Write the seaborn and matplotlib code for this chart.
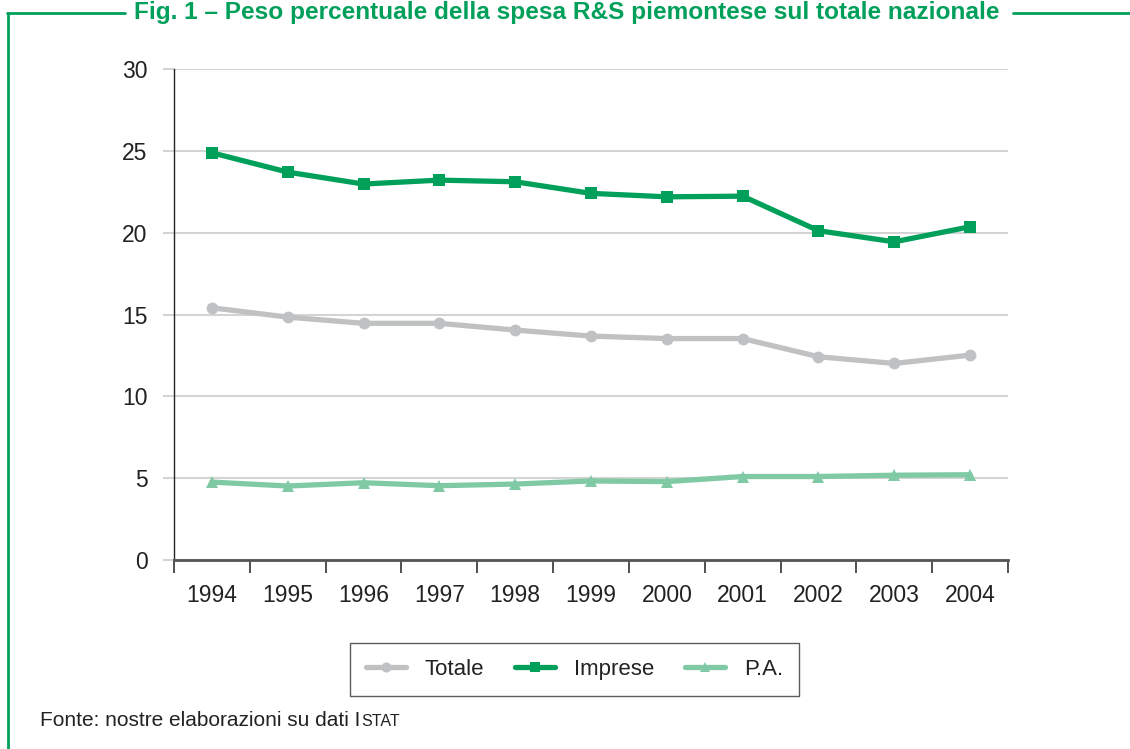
import matplotlib
matplotlib.use("Agg")
import matplotlib.pyplot as plt
from matplotlib.lines import Line2D
import seaborn as sns
import pandas as pd

years = ["1994", "1995", "1996", "1997", "1998", "1999", "2000", "2001", "2002", "2003", "2004"]
totale = [15.41, 14.84, 14.46, 14.46, 14.05, 13.68, 13.53, 13.53, 12.42, 12.01, 12.52]
imprese = [24.88, 23.70, 22.97, 23.21, 23.11, 22.40, 22.19, 22.23, 20.12, 19.44, 20.36]
pa = [4.76, 4.52, 4.72, 4.54, 4.64, 4.83, 4.79, 5.10, 5.10, 5.18, 5.21]
series_names = ["Totale", "Imprese", "P.A."]
title = "Fig. 1 – Peso percentuale della spesa R&S piemontese sul totale nazionale"
source_main = "Fonte: nostre elaborazioni su dati I"
source_small = "STAT"

colors = {"Totale": "#c0c1c3", "Imprese": "#00a05b", "P.A.": "#7fc9a5"}
markers = {"Totale": "o", "Imprese": "s", "P.A.": "^"}
msize = {"Totale": 8.5, "Imprese": 9, "P.A.": 9}

df = pd.DataFrame({
    "Anno": years * 3,
    "Valore": totale + imprese + pa,
    "Serie": [series_names[0]] * len(years) + [series_names[1]] * len(years) + [series_names[2]] * len(years),
})

sns.set_theme(style="white")
plt.rcParams["font.family"] = ["Liberation Sans", "DejaVu Sans"]

fig = plt.figure(figsize=(11.3, 7.49), dpi=100)
ax = fig.add_axes([174 / 1130, 1 - 560 / 749, (1008 - 174) / 1130, (560 - 69) / 749])

for name in series_names:
    sub = df[df["Serie"] == name]
    sns.lineplot(data=sub, x="Anno", y="Valore", ax=ax, color=colors[name],
                 marker=markers[name], markersize=msize[name], linewidth=3.8,
                 markeredgewidth=0, label=name, legend=False, sort=False)

ax.set_xlim(-0.5, len(years) - 0.5)
ax.set_ylim(0, 30)
ax.set_yticks([0, 5, 10, 15, 20, 25, 30])
ax.set_xlabel("")
ax.set_ylabel("")
ax.yaxis.grid(True, color="#d4d4d4", linewidth=1.5)
ax.set_axisbelow(True)

# x ticks at category boundaries, labels at categories
ax.set_xticks([i + 0.5 for i in range(-1, len(years))], minor=False)
ax.set_xticklabels([""] * (len(years) + 1))
ax.set_xticks(range(len(years)), minor=True)
ax.set_xticklabels(years, minor=True)
ax.tick_params(axis="x", which="major", length=9, width=1.2, color="#333333", direction="out", bottom=True)
ax.tick_params(axis="x", which="minor", length=0, pad=17, labelsize=16.5, labelcolor="#222222")
ax.tick_params(axis="y", length=8, width=1.5, color="#d4d4d4", direction="out", left=True, pad=11,
               labelsize=16.5, labelcolor="#222222")

for s in ["top", "right"]:
    ax.spines[s].set_visible(False)
ax.spines["left"].set_color("#222222")
ax.spines["left"].set_linewidth(1.0)
ax.spines["bottom"].set_color("#555555")
ax.spines["bottom"].set_linewidth(2.0)

handles = [Line2D([0], [0], color=colors[n], marker=markers[n], markersize=msize[n] * 0.85,
                  markeredgewidth=0, linewidth=3.8) for n in series_names]
leg = fig.legend(handles, series_names, loc="center", bbox_to_anchor=(574.5 / 1130, 1 - 669.5 / 749),
                 ncol=3, frameon=True, fontsize=16, handlelength=1.8, handletextpad=0.85,
                 columnspacing=1.4, borderpad=0.7, fancybox=False)
leg.get_frame().set_edgecolor("#333333")
leg.get_frame().set_linewidth(1.0)
for t in leg.get_texts():
    t.set_color("#222222")

green = "#00a05b"
# frame decoration
fig.add_artist(Line2D([8 / 1130, 8 / 1130], [0, 1 - 13 / 749], transform=fig.transFigure, color=green, linewidth=2))
fig.add_artist(Line2D([7 / 1130, 125 / 1130], [1 - 13 / 749, 1 - 13 / 749], transform=fig.transFigure, color=green, linewidth=2))
fig.add_artist(Line2D([1013 / 1130, 1], [1 - 13 / 749, 1 - 13 / 749], transform=fig.transFigure, color=green, linewidth=2))

fig.text(567 / 1130, 1 - 12 / 749, title, ha="center", va="center", fontsize=17.6, fontweight="bold",
         color=green)

base_y = 1 - 726 / 749
t1 = fig.text(40 / 1130, base_y, source_main, ha="left", va="baseline", fontsize=15, color="#222222")
fig.canvas.draw()
bb = t1.get_window_extent()
fig.text(bb.x1 / 1130 + 0.0005, base_y, source_small, ha="left", va="baseline", fontsize=11.5,
         color="#222222")

fig.savefig("out.png", dpi=100)
